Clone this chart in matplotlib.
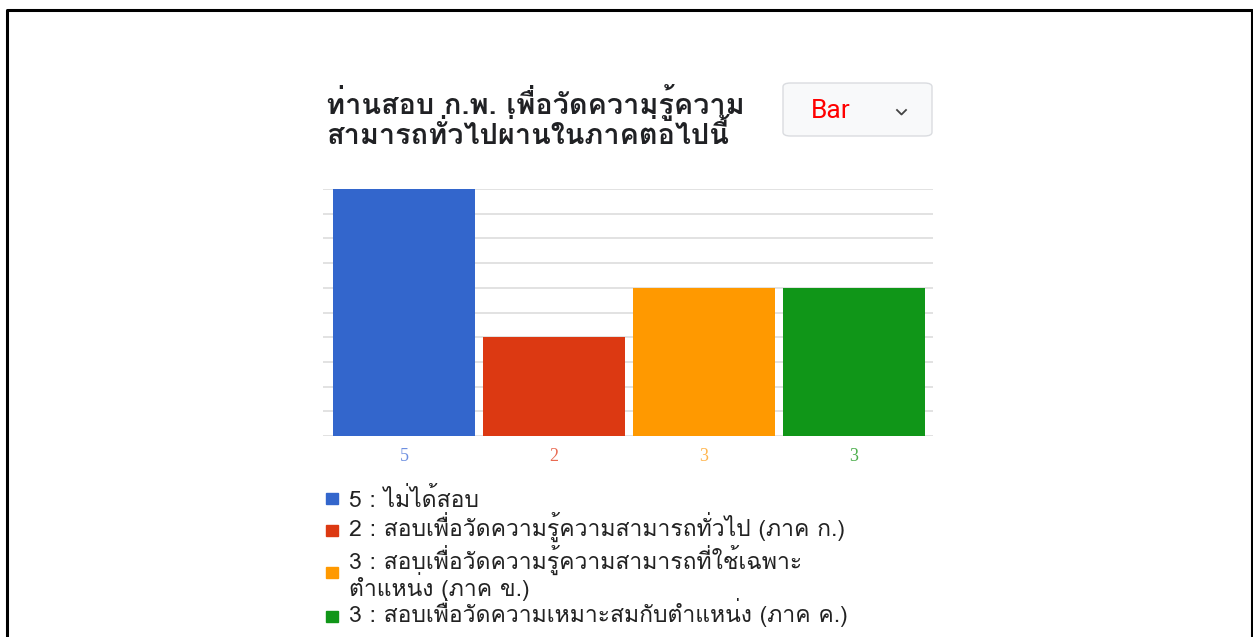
import matplotlib
matplotlib.use("Agg")
import matplotlib.pyplot as plt
from matplotlib import font_manager as fm
from matplotlib.ft2font import FT2Font
from matplotlib.patches import FancyBboxPatch, Rectangle

# data
title_lines = ["ท่านสอบ ก.พ. เพื่อวัดความรู้ความ", "สามารถทั่วไปผ่านในภาคต่อไปนี้"]
values = [5, 2, 3, 3]
tick_labels = ["5", "2", "3", "3"]
legend_labels = [
    ["5 : ไม่ได้สอบ"],
    ["2 : สอบเพื่อวัดความรู้ความสามารถทั่วไป (ภาค ก.)"],
    ["3 : สอบเพื่อวัดความรู้ความสามารถที่ใช้เฉพาะ", "ตำแหน่ง (ภาค ข.)"],
    ["3 : สอบเพื่อวัดความเหมาะสมกับตำแหน่ง (ภาค ค.)"],
]
bar_colors = ["#3366cc", "#dc3912", "#ff9900", "#109618"]
tick_colors = ["#6d8fe0", "#e96a52", "#ffb54d", "#4cae4c"]


# families that carry Thai glyphs; Loma places tone marks without shaping
def thai_families():
    found = []
    for f in fm.fontManager.ttflist:
        try:
            cmap = FT2Font(f.fname).get_charmap()
        except Exception:
            continue
        if 0x0E01 in cmap and f.name not in found:
            found.append(f.name)
    return found


thai = thai_families()
fam = [n for n in ["Loma"] if n in thai] + thai + ["DejaVu Sans"]
plt.rcParams["font.family"] = fam

W, H = 1253, 637
fig = plt.figure(figsize=(W / 100, H / 100), dpi=100)


def fx(px):
    return px / W


def fy(py):
    return 1 - py / H


# outer frame (open at the bottom)
fig.add_artist(plt.Line2D([fx(7), fx(7), fx(1252), fx(1252)],
                          [fy(637), fy(10), fy(10), fy(637)],
                          color="black", lw=2.2))

# title
for line, base in zip(title_lines, [114, 144]):
    fig.text(fx(326), fy(base), line, fontsize=20.8, fontweight="bold",
             va="baseline", ha="left", color="#202124")

# dropdown box
box = FancyBboxPatch((fx(783), fy(136)), fx(932) - fx(783), fy(83) - fy(136),
                     boxstyle="round,pad=0,rounding_size=0.006",
                     transform=fig.transFigure, facecolor="#f8f9fa",
                     edgecolor="#dadce0", lw=1)
fig.add_artist(box)
fig.text(fx(811), fy(118), "Bar", color="#ff0000", fontsize=19,
         va="baseline", ha="left", family=["Roboto", "DejaVu Sans"])
fig.add_artist(plt.Line2D([fx(897), fx(901.5), fx(906)],
                          [fy(110), fy(114.5), fy(110)],
                          color="#444444", lw=1.3))

# bar chart
ax = fig.add_axes([fx(323), fy(436), fx(933) - fx(323), fy(189) - fy(436)])
x = list(range(len(values)))
ax.bar(x, values, width=0.947, color=bar_colors, zorder=3)
ax.set_xlim(-0.54, 3.527)
ax.set_ylim(0, 5)
ax.set_yticks([i * 0.5 for i in range(11)])
ax.yaxis.grid(True, color="#dddddd", lw=1.2, zorder=0)
ax.tick_params(left=False, bottom=False, labelleft=False)
for s in ax.spines.values():
    s.set_visible(False)
ax.set_xticks(x)
ax.set_xticklabels(tick_labels, family=["Liberation Serif", "DejaVu Serif"],
                   fontsize=13)
for t, c in zip(ax.get_xticklabels(), tick_colors):
    t.set_color(c)
ax.tick_params(axis="x", pad=5)

# legend
square_y = [498.5, 530.5, 572.5, 616]
text_base = [[507], [536], [569], [622]]
text_base[2].append(596)
for lines, col, sy, bases in zip(legend_labels, bar_colors, square_y, text_base):
    fig.add_artist(Rectangle((fx(326), fy(sy + 5.5)), fx(338) - fx(326),
                             fy(sy - 5.5) - fy(sy + 5.5),
                             transform=fig.transFigure, color=col))
    for line, b in zip(lines, bases):
        fig.text(fx(349), fy(b), line, fontsize=16.5, va="baseline",
                 ha="left", color="#222222")

fig.savefig("out.png", dpi=100)
